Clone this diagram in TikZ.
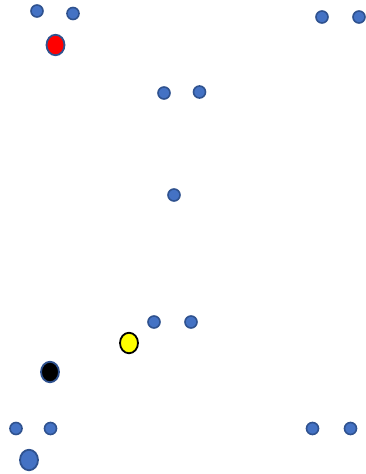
\documentclass[tikz,border=0pt]{standalone}
\definecolor{dotfill}{HTML}{4472C4}
\definecolor{dotline}{HTML}{2F528F}
\definecolor{ylw}{HTML}{FFFF00}
\tikzset{
  dot/.style={circle,draw=dotline,fill=dotfill,line width=1.6pt,minimum size=12pt,inner sep=0pt},
  bigdot/.style={ellipse,draw=dotline,line width=1.8pt,minimum width=18pt,minimum height=20.5pt,inner sep=0pt},
}
\usetikzlibrary{shapes.geometric}
\begin{document}
\begin{tikzpicture}[x=1pt,y=-1pt]
\useasboundingbox (0,0) rectangle (366,474);
\node[dot] (d1) at (37,11) {};
\node[dot] (d2) at (73,13.5) {};
\node[dot] (d3) at (322,17) {};
\node[dot] (d4) at (359,17) {};
\node[bigdot,fill=red] (red) at (55.5,45) {};
\node[dot] (d5) at (164,93) {};
\node[dot] (d6) at (199.5,92) {};
\node[dot] (d7) at (174,195) {};
\node[dot] (d8) at (154,322) {};
\node[dot] (d9) at (191,322) {};
\node[bigdot,fill=ylw,draw=black] (yellow) at (129,343) {};
\node[bigdot,fill=black] (black) at (50,372) {};
\node[dot] (d10) at (16,428.5) {};
\node[dot] (d11) at (50.5,428.5) {};
\node[dot] (d12) at (312.5,428.5) {};
\node[dot] (d13) at (350.5,428.5) {};
\node[bigdot,fill=dotfill] (blue) at (29,460) {};
\end{tikzpicture}
\end{document}
